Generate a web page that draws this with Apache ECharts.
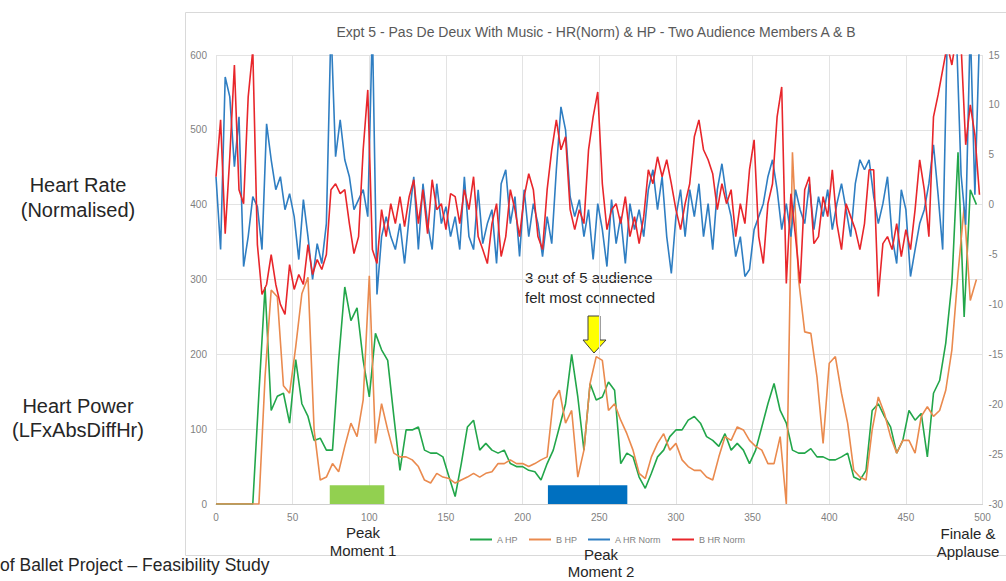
<!DOCTYPE html>
<html><head><meta charset="utf-8">
<script src="https://cdn.jsdelivr.net/npm/echarts@6/dist/echarts.min.js"></script>
<style>html,body{margin:0;padding:0;background:#fff;overflow:hidden}#c{width:1006px;height:581px}</style>
</head><body><div id="c"></div><script>
// x positions of samples (time index)
const hrX = Array.from({length: 167}, (_, i) => i * 3);
const hpX = Array.from({length: 126}, (_, i) => i * 4);
const xTicks = [0, 50, 100, 150, 200, 250, 300, 350, 400, 450, 500];

// A HR Norm (right axis)
const aHR = [
  2.8,-4.5,12.8,10.8,3.8,8.8,-6.2,-3.2,0.8,-0.2,
  -4.5,8.1,4.5,1.5,2.8,-0.5,1.1,-1.2,-5.5,0.5,
  -3.2,-7.5,-3.9,-5.9,-1.9,18,4.8,8.5,4.5,2.8,
  -0.5,0.5,1.5,-1.2,18,-9,-3.2,-1.2,-3.2,-4.5,
  -1.9,-5.9,-1.2,2.8,-4.5,2.1,-1.9,-4.5,2.1,-1.9,
  -0.2,-3.2,-1.2,-4.5,2.8,-3.2,-4.5,1.5,-3.9,-1.9,
  -0.5,-5.9,2.1,3.5,-1.9,0.8,-5.2,1.5,-3.2,0.1,
  -1.9,-5.2,-1.2,-3.9,3.5,9.8,7.5,0.8,-1.2,0.5,
  -3.2,-0.5,-5.5,0.1,-2.5,-6.2,0.5,-3.9,-1.2,-5.9,
  0.1,-2.5,-0.5,-3.2,1.5,3.5,-0.5,2.8,-3.2,-6.9,
  -1.2,1.5,-3.2,1.5,-1.2,2.1,-3.2,0.1,-4.5,1.5,
  4.1,0.8,-1.2,-5.2,-3.2,-7.2,-6.5,-2.5,-1.2,0.1,
  2.8,4.5,1.5,-2.5,0.1,-3.2,1.5,-0.5,-1.9,2.1,
  -2.5,0.8,-1.2,1.5,-2.5,0.1,2.1,-0.5,-3.2,2.1,
  4.5,3.5,4.5,0.8,-1.9,0.1,2.8,-3.2,-5.9,1.5,
  -0.5,-7.2,-4.5,-1.9,-0.5,2.1,6,1,-4.5,17,
  18,17,3,-2,18,1,17
];
// B HR Norm (right axis)
const bHR = [
  2.8,8.5,-2.9,4.8,14,1.5,0.1,10.8,15.5,-4,
  -9,-8,-5,-8,-10,-11,-6,-8.5,-7,-8,
  -4,-7,-5.5,-6.5,-5,1.5,2.1,1.1,1.5,-1.9,
  -4.9,-3.2,5.5,11.5,-4.5,-5.9,-0.5,-3.2,0.1,-1.9,
  0.8,-2.2,0.8,2.5,-1.9,1.5,-2.9,2.5,-0.5,0.1,
  -2.5,1.1,0.8,-1.9,1.5,-0.5,2.8,-3.2,-4.5,-5.9,
  -1.9,0.1,-5.2,-3.2,1.5,-0.5,-3.2,0.8,3.1,1.5,
  -3.2,-4.5,1.5,5.5,8.5,5.5,6.8,-0.5,-2.5,-0.5,
  -1.9,5.5,8.8,11.3,2.1,-2.5,-0.5,0.1,-1.9,0.8,
  -3.2,-1.2,-3.9,-1.2,3.5,2.1,4.8,2.8,4.5,2.1,
  -0.5,-2.5,0.1,2.1,6.8,8.5,5.5,4.5,3.1,-0.5,
  2.1,0.1,1.5,-3.2,0.1,-1.9,3.5,6.5,-3.2,-5.9,
  0.1,2.1,8.8,11.8,-7.9,1.1,-3.2,-7.9,1.5,2.8,
  -3.9,-3.2,0.8,-1.2,3.5,-1.9,-4.5,0.1,-1.2,-2.5,
  -4.5,-1.9,3.5,3.5,-9.2,-3.9,-3.2,-4.5,-1.9,-5.2,
  -2.5,-4.5,-0.5,4.5,1.5,-3.2,8.8,11,13.5,16,
  14,17,16,6,10,7,1
];
// A HP (left axis)
const aHP = [
  0,0,0,0,0,0,0,148,290,125,
  144,148,108,193,134,117,85,88,72,72,
  192,290,245,262,192,143,228,206,192,117,
  45,99,99,103,72,68,68,63,36,10,
  54,103,112,72,81,72,68,72,54,50,
  50,45,43,32,54,72,103,134,200,143,
  72,161,139,143,163,152,54,68,63,36,
  21,41,63,72,90,99,99,112,117,108,
  90,85,77,94,72,81,72,54,72,103,
  134,161,125,108,72,68,68,74,63,63,
  59,59,63,68,36,32,45,125,134,117,
  103,68,85,125,112,121,63,148,165,215,
  295,470,250,420,400,null
];
// B HP (left axis)
const bHP = [
  0,0,0,0,0,0,0,0,170,286,
  277,158,148,210,281,303,99,32,36,54,
  43,77,108,90,139,305,81,134,99,68,
  63,63,59,50,32,28,41,36,34,28,
  32,36,41,36,41,43,54,54,59,54,
  54,50,54,59,63,139,152,108,125,36,
  72,161,197,192,125,134,112,94,72,41,
  34,63,81,94,72,81,59,50,45,45,
  36,32,63,90,85,103,99,85,77,72,
  54,54,90,0,470,300,230,228,170,81,
  188,197,148,108,45,36,32,99,143,121,
  90,68,85,85,68,117,130,117,125,152,
  206,308,397,272,300,null
];
const peakWindows = [[74.2, 109.8, '#92D050'], [216.5, 268.3, '#0070C0']];
const peakHeight = 25;

const FN = '"Liberation Sans Narrow","Liberation Sans",Arial,sans-serif';
const FS = '"Liberation Sans",Arial,sans-serif';
const grey = '#7f7f7f';

const chart = echarts.init(document.getElementById('c'), null, {renderer: 'svg'});
const mk = (xs, ys) => xs.map((x, i) => [x, ys[i] === undefined ? null : ys[i]]);
const lineSeries = (name, color, xs, ys, axis, extra) => Object.assign({
  name, type: 'line', yAxisIndex: axis, data: mk(xs, ys), showSymbol: false, symbol: 'none',
  lineStyle: {color, width: 1.6}, itemStyle: {color}, clip: true, connectNulls: false, z: 2
}, extra || {});

chart.setOption({
  animation: false,
  backgroundColor: '#ffffff',
  grid: {left: 216, right: 17, top: 55, bottom: 77},
  xAxis: {
    type: 'value', min: 0, max: 500, interval: 50,
    axisLine: {show: true, lineStyle: {color: '#d0d0d0'}},
    axisTick: {show: false},
    splitLine: {show: true, lineStyle: {color: '#e3e3e3'}},
    axisLabel: {color: grey, fontFamily: FN, fontSize: 10, margin: 8,
      formatter: v => xTicks.includes(v) ? String(v) : ''}
  },
  yAxis: [
    {type: 'value', min: 0, max: 600, interval: 100,
     axisLine: {show: false}, axisTick: {show: false},
     splitLine: {show: true, lineStyle: {color: '#e3e3e3'}},
     axisLabel: {color: grey, fontFamily: FN, fontSize: 10, margin: 9}},
    {type: 'value', min: -30, max: 15, interval: 5, position: 'right',
     axisLine: {show: false}, axisTick: {show: false}, splitLine: {show: false},
     axisLabel: {color: grey, fontFamily: FN, fontSize: 10, margin: 6}}
  ],
  legend: {
    left: 470, top: 535, icon: 'rect', itemWidth: 22, itemHeight: 2, itemGap: 11, padding: 0,
    textStyle: {color: grey, fontFamily: FN, fontSize: 9},
    data: ['A HP', 'B HP', 'A HR Norm', 'B HR Norm']
  },
  series: [
    lineSeries('A HP', '#22A64A', hpX, aHP, 0, {
      markArea: {silent: true, z: 1,
        data: peakWindows.map(w => [
          {xAxis: w[0], yAxis: 0, itemStyle: {color: w[2], opacity: 1}},
          {xAxis: w[1], yAxis: peakHeight}
        ])}
    }),
    lineSeries('B HP', '#EA8A4E', hpX, bHP, 0),
    lineSeries('A HR Norm', '#2F7EC2', hrX, aHR, 1),
    lineSeries('B HR Norm', '#E8262B', hrX, bHR, 1)
  ],
  graphic: [
    {type: 'rect', silent: true, z: -10, shape: {x: 185.5, y: 12.5, width: 900, height: 543},
     style: {fill: 'none', stroke: '#d9d9d9', lineWidth: 1}},
    {type: 'text', silent: true, style: {text: 'Expt 5 - Pas De Deux With Music - HR(Norm) & HP - Two Audience Members A & B',
      x: 596, y: 32, align: 'center', verticalAlign: 'middle', font: '14px ' + FN, fill: '#595959'}},
    {type: 'text', silent: true, style: {text: 'Heart Rate\n(Normalised)', x: 78, y: 197, align: 'center', verticalAlign: 'middle',
      font: '20px ' + FS, lineHeight: 25, fill: '#262626'}},
    {type: 'text', silent: true, style: {text: 'Heart Power\n(LFxAbsDiffHr)', x: 78, y: 418, align: 'center', verticalAlign: 'middle',
      font: '20px ' + FS, lineHeight: 24, fill: '#262626'}},
    {type: 'text', silent: true, style: {text: 'of Ballet Project \u2013 Feasibility Study', x: 0, y: 565, align: 'left', verticalAlign: 'middle',
      font: '17.5px ' + FS, fill: '#262626'}},
    {type: 'text', silent: true, style: {text: 'Peak\nMoment 1', x: 363, y: 541, align: 'center', verticalAlign: 'middle',
      font: '15px ' + FS, lineHeight: 18, fill: '#262626'}},
    {type: 'text', silent: true, style: {text: 'Peak\nMoment 2', x: 601, y: 563, align: 'center', verticalAlign: 'middle',
      font: '15px ' + FS, lineHeight: 17, fill: '#262626'}},
    {type: 'text', silent: true, style: {text: 'Finale &\nApplause', x: 968, y: 542, align: 'center', verticalAlign: 'middle',
      font: '15px ' + FS, lineHeight: 18, fill: '#262626'}},
    {type: 'text', silent: true, style: {text: '3 out of 5 audience\nfelt most connected', x: 525, y: 287, align: 'left', verticalAlign: 'middle',
      font: '15px ' + FS, lineHeight: 20, fill: '#262626'}},
    {type: 'polygon', silent: true, shape: {points: [[588, 316], [600, 316], [600, 340], [606, 340], [594, 353], [583, 340], [588, 340]]},
     style: {fill: '#FFFF00', stroke: '#404040', lineWidth: 1}}
  ]
});
</script></body></html>
